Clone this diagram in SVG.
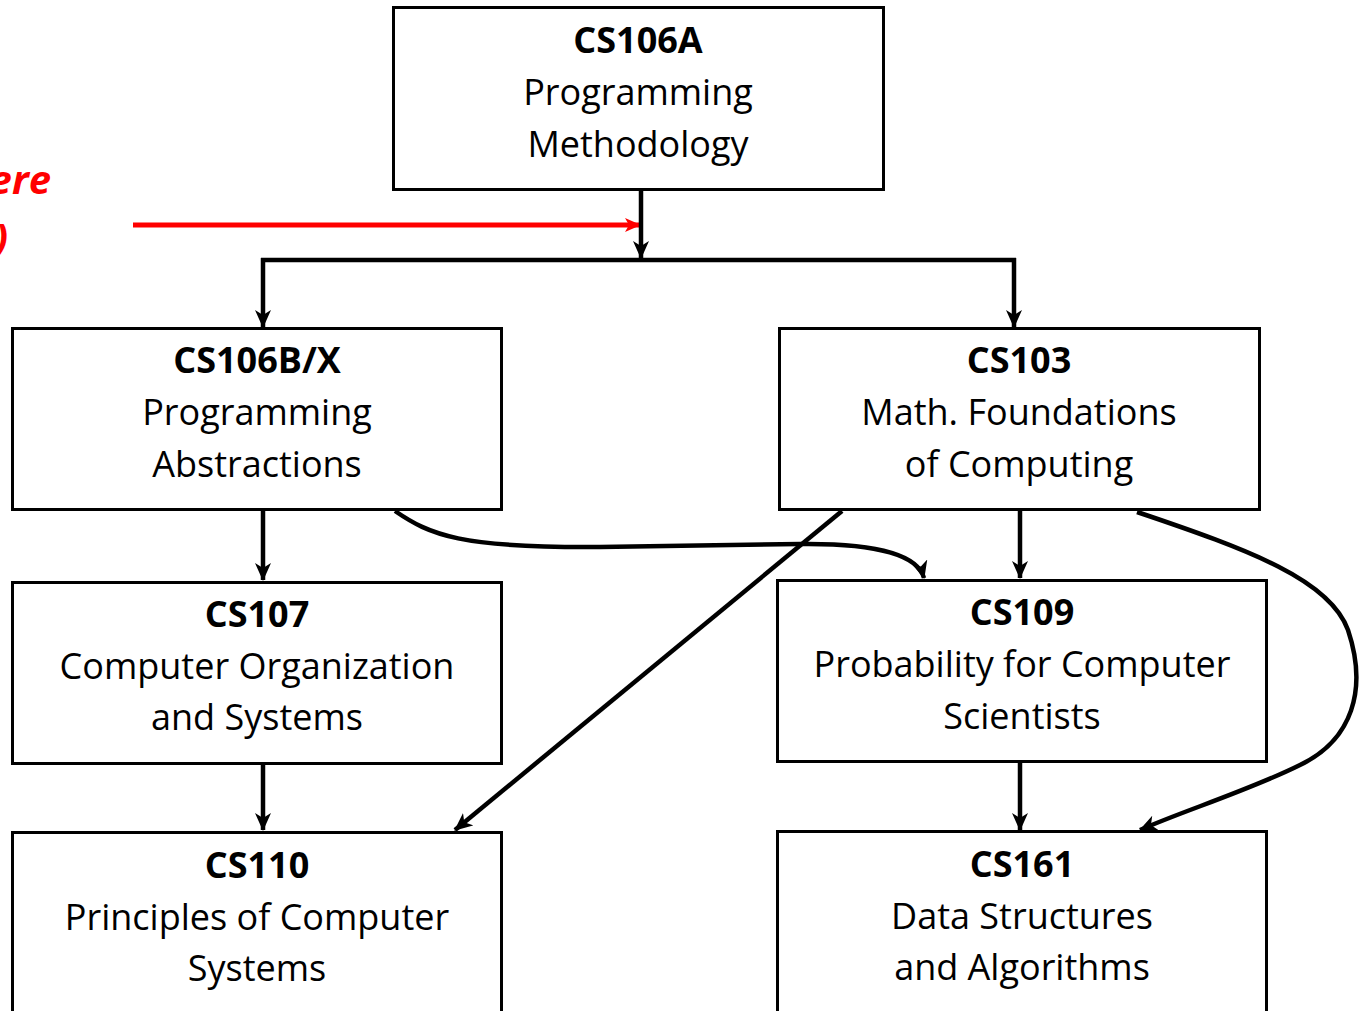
<svg xmlns="http://www.w3.org/2000/svg" width="1361" height="1011" viewBox="0 0 1361 1011">
<style>
.box{fill:#fff;stroke:#000;stroke-width:3}
.t{font-family:"Open Sans","Liberation Sans",sans-serif;font-size:36px;text-anchor:middle;fill:#000}
.b{font-weight:bold}
.c{fill:none;stroke:#000;stroke-width:4.5}
.r{font-family:"Open Sans","Liberation Sans",sans-serif;font-size:40px;font-weight:bold;font-style:italic;fill:#ff0000;text-anchor:end}
</style>
<defs>
<marker id="ah" markerUnits="userSpaceOnUse" markerWidth="18" markerHeight="16" refX="17" refY="8" orient="auto">
<path d="M0,0 L18,8 L0,16 L5,8 Z" fill="#000"/>
</marker>
<marker id="ahr" markerUnits="userSpaceOnUse" markerWidth="16" markerHeight="14" refX="15" refY="7" orient="auto">
<path d="M0,0 L16,7 L0,14 L4,7 Z" fill="#ff0000"/>
</marker>
</defs>
<rect width="1361" height="1011" fill="#fff"/>
<g id="note">
<text class="r" x="51" y="194">ere</text>
<text class="r" x="8" y="252">)</text>
</g>
<g id="connectors">
<line x1="133" y1="225" x2="640" y2="225" stroke="#ff0000" stroke-width="5" marker-end="url(#ahr)"/>
<path class="c" d="M641,190 L641,258" marker-end="url(#ah)"/>
<path class="c" d="M261,260 L1016,260"/>
<path class="c" d="M263,258 L263,327" marker-end="url(#ah)"/>
<path class="c" d="M1014,258 L1014,327" marker-end="url(#ah)"/>
<path class="c" d="M263,510 L263,580" marker-end="url(#ah)"/>
<path class="c" d="M263,764 L263,830" marker-end="url(#ah)"/>
<path class="c" d="M1020,510 L1020,578" marker-end="url(#ah)"/>
<path class="c" d="M1020,762 L1020,830" marker-end="url(#ah)"/>
<path class="c" d="M395,511 C430,535 460,548 600,547 L800,544 C880,543 918,556 924,578" marker-end="url(#ah)"/>
<path class="c" d="M842,511 L455,830" marker-end="url(#ah)"/>
<path class="c" d="M1137,512 C1250,550 1330,580 1348,630 C1368,690 1352,740 1300,765 C1250,790 1180,812 1140,830" marker-end="url(#ah)"/>
</g>
<g id="cs106a">
<rect class="box" x="393.5" y="7.5" width="490" height="182"/>
<text class="t b" x="638" y="53">CS106A</text>
<text class="t" x="638" y="105">Programming</text>
<text class="t" x="638" y="157">Methodology</text>
</g>
<g id="cs106bx">
<rect class="box" x="12.5" y="328.5" width="489" height="181"/>
<text class="t b" x="257" y="373">CS106B/X</text>
<text class="t" x="257" y="425">Programming</text>
<text class="t" x="257" y="477">Abstractions</text>
</g>
<g id="cs103">
<rect class="box" x="779.5" y="328.5" width="480" height="181"/>
<text class="t b" x="1019" y="373">CS103</text>
<text class="t" x="1019" y="425">Math. Foundations</text>
<text class="t" x="1019" y="477">of Computing</text>
</g>
<g id="cs107">
<rect class="box" x="12.5" y="582.5" width="489" height="181"/>
<text class="t b" x="257" y="627">CS107</text>
<text class="t" x="257" y="679">Computer Organization</text>
<text class="t" x="257" y="730">and Systems</text>
</g>
<g id="cs109">
<rect class="box" x="777.5" y="580.5" width="489" height="181"/>
<text class="t b" x="1022" y="625">CS109</text>
<text class="t" x="1022" y="677">Probability for Computer</text>
<text class="t" x="1022" y="729">Scientists</text>
</g>
<g id="cs110">
<rect class="box" x="12.5" y="832.5" width="489" height="200"/>
<text class="t b" x="257" y="878">CS110</text>
<text class="t" x="257" y="930">Principles of Computer</text>
<text class="t" x="257" y="981">Systems</text>
</g>
<g id="cs161">
<rect class="box" x="777.5" y="831.5" width="489" height="200"/>
<text class="t b" x="1022" y="877">CS161</text>
<text class="t" x="1022" y="929">Data Structures</text>
<text class="t" x="1022" y="980">and Algorithms</text>
</g>
</svg>
